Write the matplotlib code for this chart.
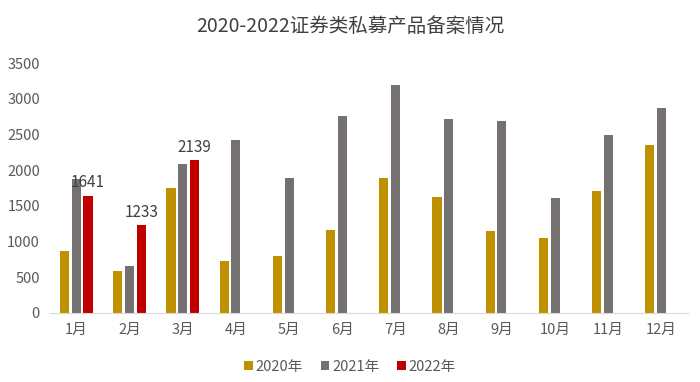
import matplotlib.pyplot as plt
import numpy as np

plt.rcParams["font.family"] = ["Noto Sans CJK SC", "DejaVu Sans"]

MONTHS = ["1月", "2月", "3月", "4月", "5月", "6月",
          "7月", "8月", "9月", "10月", "11月", "12月"]
Y2020 = [860, 590, 1750, 728, 798, 1160, 1885, 1620, 1153, 1055, 1708, 2357]
Y2021 = [1870, 652, 2086, 2422, 1885, 2758, 3192, 2711, 2688, 1605, 2497, 2870]
Y2022 = [1641, 1233, 2139]

COLORS = {"2020年": "#BF9000", "2021年": "#767171", "2022年": "#C00000"}


def main():
    fig = plt.figure(figsize=(7.0, 3.82), dpi=100)
    ax = fig.add_axes([0.071, 0.181, 0.912, 0.654])

    x = np.arange(len(MONTHS))
    width = 0.17
    step = 0.22

    ax.bar(x - step, Y2020, width, color=COLORS["2020年"], label="2020年")
    ax.bar(x, Y2021, width, color=COLORS["2021年"], label="2021年")
    x22 = x[:len(Y2022)] + step
    ax.bar(x22, Y2022, width, color=COLORS["2022年"], label="2022年")

    for xi, v in zip(x22, Y2022):
        ax.text(xi, v + 60, f"{v}", ha="center", va="bottom",
                fontsize=11, color="#404040")

    ax.set_xlim(-0.5, 11.5)
    ax.set_ylim(0, 3500)
    ax.set_yticks(range(0, 3501, 500))
    ax.set_xticks(x)
    ax.set_xticklabels(MONTHS)
    ax.tick_params(axis="both", length=0, labelsize=10.5, colors="#595959")
    ax.tick_params(axis="x", pad=7)
    ax.tick_params(axis="y", pad=7)

    for side in ["top", "right", "left"]:
        ax.spines[side].set_visible(False)
    ax.spines["bottom"].set_color("#D9D9D9")

    fig.text(0.5, 0.93, "2020-2022证券类私募产品备案情况",
             ha="center", va="center", fontsize=14, color="#404040")

    fig.legend(loc="center", bbox_to_anchor=(0.5, 0.04), ncol=3,
               frameon=False, fontsize=10.5, handlelength=0.6,
               handleheight=0.6, handletextpad=0.2, columnspacing=1.2,
               labelcolor="#595959")

    fig.savefig("out.png", dpi=100)


if __name__ == "__main__":
    main()
